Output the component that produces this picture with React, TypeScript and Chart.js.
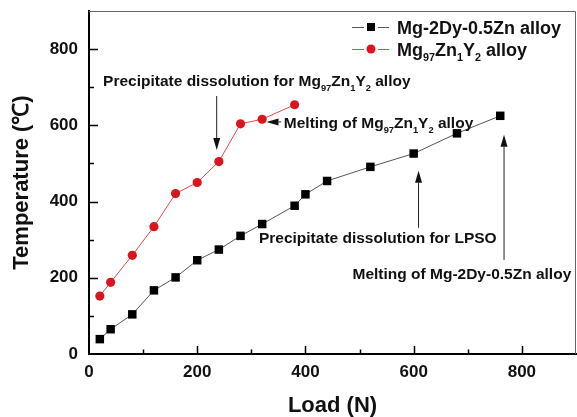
import { useEffect, useRef } from "react";
import { Chart, registerables } from "chart.js";

Chart.register(...registerables);

const FONT = '"Liberation Sans", Arial, Helvetica, sans-serif';

// ---- data ----
const seriesALabel = "Mg-2Dy-0.5Zn alloy";
const seriesALoad = [20, 40, 80, 120, 160, 200, 240, 280, 320, 380, 400, 440, 520, 600, 680, 760];
const seriesATemp = [39, 65, 104, 167, 201, 246, 274, 310, 341, 389, 419, 454, 491, 526, 579, 625];

const seriesBLabel = "Mg_{97}Zn_{1}Y_{2} alloy";
const seriesBLoad = [20, 40, 80, 120, 160, 200, 240, 280, 320, 380];
const seriesBTemp = [152, 188, 259, 334, 421, 450, 505, 604, 616, 654];

const xTickValues = [0, 200, 400, 600, 800];
const yTickValues = [0, 200, 400, 600, 800];
const xMinorTicks = [100, 300, 500, 700];
const yMinorTicks = [100, 300, 500, 700];
const xMax = 900;
const yMax = 900;

const xTitle = "Load (N)";
const yTitle = "Temperature (\u2103)";

// annotations (text anchor and arrows in data coordinates)
const annotationTexts = [
  "Precipitate dissolution for Mg_{97}Zn_{1}Y_{2} alloy",
  "Melting of Mg_{97}Zn_{1}Y_{2} alloy",
  "Precipitate dissolution for LPSO",
  "Melting of Mg-2Dy-0.5Zn alloy",
];
const annotationAnchors = [
  [26, 702],
  [360, 592],
  [314, 292],
  [487, 196],
];
const arrowFrom = [
  [236, 677],
  [355, 609],
  [609, 331],
  [767, 247],
];
const arrowTo = [
  [236, 535],
  [328, 609],
  [609, 481],
  [767, 575],
];

type Seg = { t: string; sub: boolean };
function parseRich(s: string): Seg[] {
  const segs: Seg[] = [];
  const re = /_\{([^}]*)\}/g;
  let last = 0;
  let m: RegExpExecArray | null;
  while ((m = re.exec(s))) {
    if (m.index > last) segs.push({ t: s.slice(last, m.index), sub: false });
    segs.push({ t: m[1], sub: true });
    last = re.lastIndex;
  }
  if (last < s.length) segs.push({ t: s.slice(last), sub: false });
  return segs;
}

function drawRich(ctx: CanvasRenderingContext2D, s: string, x: number, y: number, size: number) {
  let cx = x;
  ctx.textAlign = "left";
  ctx.textBaseline = "alphabetic";
  for (const seg of parseRich(s)) {
    const fs = seg.sub ? size * 0.6 : size;
    ctx.font = `bold ${fs}px ${FONT}`;
    ctx.fillText(seg.t, cx, seg.sub ? y + size * 0.3 : y);
    cx += ctx.measureText(seg.t).width;
  }
}

function drawArrow(ctx: CanvasRenderingContext2D, x1: number, y1: number, x2: number, y2: number) {
  const ang = Math.atan2(y2 - y1, x2 - x1);
  const hl = 12;
  const hw = 3.5;
  const bx = x2 - hl * Math.cos(ang);
  const by = y2 - hl * Math.sin(ang);
  ctx.strokeStyle = "#222";
  ctx.fillStyle = "#111";
  ctx.lineWidth = 1;
  ctx.beginPath();
  ctx.moveTo(x1, y1);
  ctx.lineTo(bx, by);
  ctx.stroke();
  ctx.beginPath();
  ctx.moveTo(x2, y2);
  ctx.lineTo(bx + hw * Math.sin(ang), by - hw * Math.cos(ang));
  ctx.lineTo(bx - hw * Math.sin(ang), by + hw * Math.cos(ang));
  ctx.closePath();
  ctx.fill();
}

const decorPlugin = {
  id: "decor",
  beforeDatasetsDraw(chart: any) {
    const { ctx, chartArea, scales } = chart;
    const xs = scales.x;
    const ys = scales.y;
    ctx.save();
    // top & right frame
    ctx.strokeStyle = "#666";
    ctx.lineWidth = 1;
    ctx.beginPath();
    ctx.moveTo(chartArea.left, chartArea.top + 0.5);
    ctx.lineTo(chartArea.right - 0.5, chartArea.top + 0.5);
    ctx.lineTo(chartArea.right - 0.5, chartArea.bottom);
    ctx.stroke();
    // inward ticks
    ctx.strokeStyle = "#000";
    ctx.lineWidth = 1.5;
    const b = chartArea.bottom;
    const l = chartArea.left;
    const tick = (vals: number[], len: number, horiz: boolean) => {
      for (const v of vals) {
        ctx.beginPath();
        if (horiz) {
          const px = Math.round(xs.getPixelForValue(v)) + 0.5;
          ctx.moveTo(px, b);
          ctx.lineTo(px, b - len);
        } else {
          const py = Math.round(ys.getPixelForValue(v)) + 0.5;
          ctx.moveTo(l, py);
          ctx.lineTo(l + len, py);
        }
        ctx.stroke();
      }
    };
    tick(xTickValues.filter((v) => v > 0), 8, true);
    tick(xMinorTicks, 4.5, true);
    tick(yTickValues.filter((v) => v > 0), 9, false);
    tick(yMinorTicks, 5, false);
    ctx.restore();
  },
  afterDraw(chart: any) {
    const { ctx, scales } = chart;
    const xs = scales.x;
    const ys = scales.y;
    ctx.save();
    // annotations
    annotationTexts.forEach((t, i) => {
      const [ax, ay] = annotationAnchors[i];
      ctx.fillStyle = "#111";
      drawRich(ctx, t, xs.getPixelForValue(ax), ys.getPixelForValue(ay), 15.5);
      const [fx, fy] = arrowFrom[i];
      const [tx, ty] = arrowTo[i];
      drawArrow(
        ctx,
        xs.getPixelForValue(fx),
        ys.getPixelForValue(fy),
        xs.getPixelForValue(tx),
        ys.getPixelForValue(ty)
      );
    });
    // legend
    const rows = [27, 49];
    chart.data.datasets.forEach((ds: any, i: number) => {
      const cy = rows[i];
      ctx.strokeStyle = ds.borderColor;
      ctx.lineWidth = 1;
      ctx.beginPath();
      ctx.moveTo(352, cy + 0.5);
      ctx.lineTo(364, cy + 0.5);
      ctx.moveTo(378, cy + 0.5);
      ctx.lineTo(389, cy + 0.5);
      ctx.stroke();
      ctx.fillStyle = ds.pointBackgroundColor;
      if (ds.pointStyle === "rect") {
        ctx.fillRect(367, cy - 4, 8, 8);
      } else {
        ctx.beginPath();
        ctx.arc(371, cy, 4.5, 0, Math.PI * 2);
        ctx.fill();
      }
      ctx.fillStyle = "#111";
      drawRich(ctx, ds.richLabel, 397, cy + 6.5, 18);
    });
    ctx.restore();
  },
};

function zeroPad(s: any) {
  s.paddingTop = 0;
  s.paddingBottom = 0;
  s.paddingLeft = 0;
  s.paddingRight = 0;
}

export default function App() {
  const ref = useRef<HTMLCanvasElement | null>(null);
  useEffect(() => {
    if (!ref.current) return;
    const tickFont = { family: FONT, size: 17, weight: "bold" as const };
    const titleFont = { family: FONT, size: 22, weight: "bold" as const, lineHeight: 1 };
    const chart = new Chart(ref.current, {
      type: "line",
      data: {
        datasets: [
          {
            label: seriesALabel,
            richLabel: seriesALabel,
            data: seriesALoad.map((x, i) => ({ x, y: seriesATemp[i] })),
            borderColor: "#555",
            borderWidth: 1,
            pointStyle: "rect",
            pointRadius: 6,
            pointBackgroundColor: "#000",
            pointBorderColor: "#000",
            pointBorderWidth: 0,
            tension: 0,
          } as any,
          {
            label: seriesBLabel.replace(/_\{([^}]*)\}/g, "$1"),
            richLabel: seriesBLabel,
            data: seriesBLoad.map((x, i) => ({ x, y: seriesBTemp[i] })),
            borderColor: "#e8474a",
            borderWidth: 1,
            pointStyle: "circle",
            pointRadius: 4.6,
            pointBackgroundColor: "#d8161e",
            pointBorderColor: "#d8161e",
            pointBorderWidth: 0,
            tension: 0,
          } as any,
        ],
      },
      options: {
        responsive: false,
        animation: false,
        events: [],
        layout: { autoPadding: false, padding: { top: 11, right: 1, left: 0, bottom: 0 } },
        plugins: {
          legend: { display: false },
          tooltip: { enabled: false },
          title: { display: false },
        },
        scales: {
          x: {
            type: "linear",
            position: "bottom",
            min: 0,
            max: xMax,
            afterFit: (s: any) => {
              s.height = 63;
              zeroPad(s);
            },
            afterBuildTicks: (s: any) => {
              s.ticks = xTickValues.map((v) => ({ value: v }));
            },
            grid: { display: false, drawTicks: false },
            border: { display: true, color: "#000", width: 2 },
            ticks: { padding: 8, color: "#111", font: tickFont, maxRotation: 0, autoSkip: false },
            title: { display: true, text: xTitle, color: "#111", font: titleFont, padding: { top: 0, bottom: 0 } },
          },
          y: {
            type: "linear",
            position: "left",
            min: 0,
            max: yMax,
            afterFit: (s: any) => {
              s.width = 89;
              zeroPad(s);
            },
            afterBuildTicks: (s: any) => {
              s.ticks = yTickValues.map((v) => ({ value: v }));
            },
            grid: { display: false, drawTicks: false },
            border: { display: true, color: "#000", width: 2 },
            ticks: { padding: 11, color: "#111", font: tickFont, autoSkip: false },
            title: { display: true, text: yTitle, color: "#111", font: titleFont, padding: { top: 11, bottom: 0 } },
          },
        },
      },
      plugins: [decorPlugin],
    });
    return () => chart.destroy();
  }, []);
  return (
    <div style={{ position: "fixed", left: 0, top: 0, width: 577, height: 417, background: "#fff" }}>
      <canvas ref={ref} width={577} height={417} style={{ display: "block" }} />
    </div>
  );
}
